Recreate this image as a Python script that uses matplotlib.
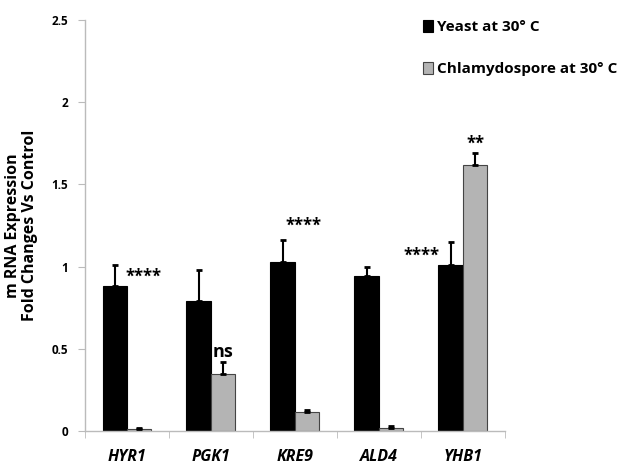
import matplotlib
matplotlib.use("Agg")
import matplotlib.pyplot as plt
import numpy as np

genes = ["HYR1", "PGK1", "KRE9", "ALD4", "YHB1"]
yeast = [0.88, 0.79, 1.03, 0.94, 1.01]
yeast_err = [0.13, 0.19, 0.13, 0.06, 0.14]
chlamy = [0.014, 0.345, 0.118, 0.02, 1.62]
chlamy_err = [0.004, 0.075, 0.007, 0.012, 0.07]
series_names = ["Yeast at 30° C", "Chlamydospore at 30° C"]
sig_labels = [("****", 1, 0), ("ns", 1, 1), ("****", 1, 2), ("****", 0, 4), ("**", 1, 4)]
sig_y = [0.94, 0.48, 1.25, 1.065, 1.745]
sig_dx = [0.05, 0.0, -0.04, -0.35, 0.0]

plt.rcParams['font.family'] = ['Open Sans', 'DejaVu Sans']
fig = plt.figure(figsize=(6.24, 4.71), dpi=100)
ax = fig.add_axes([0.136, 0.085, 0.673, 0.8725])

x = np.arange(len(genes))
w = 0.29
ax.bar(x - w/2, yeast, w, color="black", edgecolor="black", linewidth=0.8,
       label=series_names[0], zorder=2)
ax.bar(x + w/2, chlamy, w, color="#b4b4b4", edgecolor="#444444", linewidth=0.8,
       label=series_names[1], zorder=2)
ax.errorbar(x - w/2, yeast, yerr=[np.zeros(5), yeast_err], fmt="none", ecolor="black",
            elinewidth=1.5, capsize=2.5, capthick=2, zorder=3)
ax.errorbar(x + w/2, chlamy, yerr=[np.zeros(5), chlamy_err], fmt="none", ecolor="black",
            elinewidth=1.5, capsize=2.5, capthick=2, zorder=3)

for (lab, s, i), yy, dx in zip(sig_labels, sig_y, sig_dx):
    xx = x[i] + (w/2 if s == 1 else -w/2) + dx
    fs = 13 if lab == "ns" else 12
    ax.text(xx, yy, lab, ha="center", va="center", fontsize=fs, fontweight="bold")

ax.set_xlim(-0.5, 4.5)
ax.set_ylim(0, 2.5)
ax.set_yticks([0, 0.5, 1, 1.5, 2, 2.5])
ax.set_yticklabels(["0", "0.5", "1", "1.5", "2", "2.5"], fontsize=8.5, fontweight="bold")
ax.set_xticks(x)
ax.set_xticklabels(genes, fontsize=11.5, fontweight="bold", fontstyle="italic")
ax.set_xticks(np.arange(-0.5, 4.6, 1), minor=True)
ax.tick_params(axis="x", which="major", length=0, pad=13)
ax.tick_params(axis="x", which="minor", length=5, color="#bbbbbb", direction="out")
ax.tick_params(axis="y", length=5, color="#bbbbbb", direction="out", pad=7)
for sp in ["top", "right"]:
    ax.spines[sp].set_visible(False)
for sp in ["left", "bottom"]:
    ax.spines[sp].set_color("#bbbbbb")
    ax.spines[sp].set_linewidth(1)

ax.set_ylabel("m RNA Expression\nFold Changes Vs Control", fontsize=11.5, fontweight="bold",
              labelpad=10, linespacing=1.05)

leg = ax.legend(loc="upper left", bbox_to_anchor=(0.79, 1.015), frameon=False,
                prop={"weight": "bold", "size": 11}, handlelength=0.7, handleheight=0.85,
                handletextpad=0.25, labelspacing=1.8, borderaxespad=0)

fig.savefig("out.png", dpi=100)
